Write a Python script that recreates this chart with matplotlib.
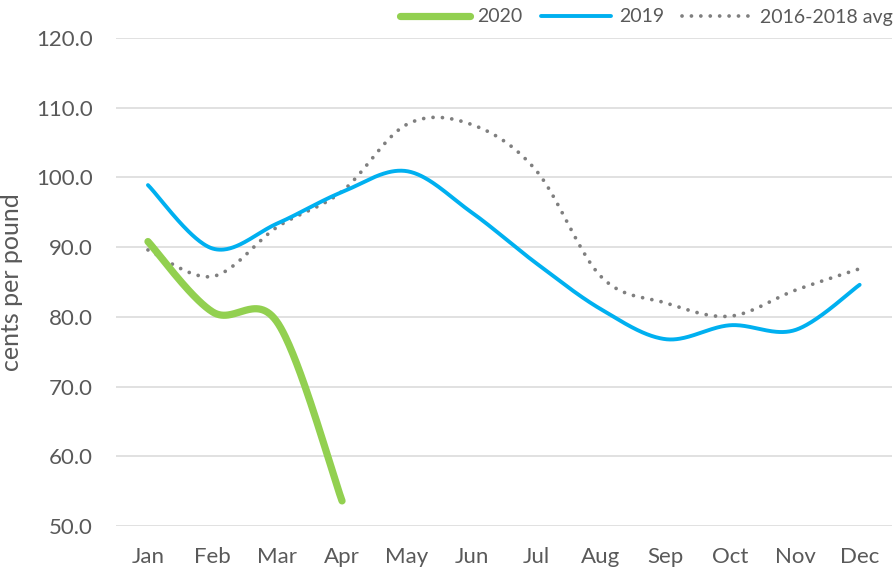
import numpy as np
import matplotlib
matplotlib.use("Agg")
import matplotlib.pyplot as plt
from matplotlib.lines import Line2D

plt.rcParams['font.family'] = ['Lato', 'DejaVu Sans']

months = ["Jan", "Feb", "Mar", "Apr", "May", "Jun", "Jul", "Aug", "Sep", "Oct", "Nov", "Dec"]
y2020 = [90.8, 80.7, 79.2, 53.6]
y2019 = [98.9, 89.8, 93.4, 97.9, 100.9, 95.0, 87.7, 81.1, 76.8, 78.8, 78.1, 84.6]
yavg = [89.6, 85.8, 92.9, 98.0, 107.6, 107.6, 101.0, 85.8, 82.0, 80.1, 83.8, 86.9]
yticks = [50, 60, 70, 80, 90, 100, 110, 120]

TEXT = "#595959"


def smooth(xs, ys, n=60):
    xs = np.asarray(xs, float)
    ys = np.asarray(ys, float)
    P = np.column_stack([xs, ys])
    out = []
    m = len(P)
    for i in range(m - 1):
        p0 = P[i - 1] if i > 0 else P[i]
        p1 = P[i]
        p2 = P[i + 1]
        p3 = P[i + 2] if i + 2 < m else P[i + 1]
        c1 = p1 + (p2 - p0) / 6.0
        c2 = p2 - (p3 - p1) / 6.0
        t = np.linspace(0, 1, n)[:, None]
        seg = ((1 - t) ** 3) * p1 + 3 * ((1 - t) ** 2) * t * c1 + 3 * (1 - t) * t ** 2 * c2 + t ** 3 * p2
        out.append(seg if i == 0 else seg[1:])
    arr = np.vstack(out)
    return arr[:, 0], arr[:, 1]


fig = plt.figure(figsize=(8.94, 5.72), dpi=100)
ax = fig.add_axes([115.6 / 894, 46 / 572, 776.4 / 894, 488 / 572])

for v in yticks:
    ax.axhline(v, color="#D9D9D9", lw=1.1, zorder=0)

DOT = (0, (0.01, 2.5))
x = np.arange(len(months))
xa, ya = smooth(x, yavg)
ax.plot(xa, ya, color="#7F7F7F", lw=2.7, linestyle=DOT,
        dash_capstyle="round", solid_capstyle="round", zorder=2)
xb, yb = smooth(x, y2019)
ax.plot(xb, yb, color="#00B0F0", lw=2.8, solid_capstyle="round", zorder=3)
xg, yg = smooth(x[:len(y2020)], y2020)
ax.plot(xg, yg, color="#92D050", lw=5.2, solid_capstyle="round", zorder=4)

ax.set_xlim(-0.5, 11.5)
ax.set_ylim(50, 120)
ax.set_xticks(x)
ax.set_xticklabels(months)
ax.set_yticks(yticks)
ax.set_yticklabels([f"{v:.1f}" for v in yticks])
ax.tick_params(axis="both", length=0, labelsize=16, labelcolor=TEXT)
ax.tick_params(axis="x", pad=15)
ax.tick_params(axis="y", pad=16.5)
for s in ax.spines.values():
    s.set_visible(False)
ax.set_ylabel("cents per pound", fontsize=18, color=TEXT)
ax.yaxis.set_label_coords(-(115.6 - 23) / 776.4, 0.5)

handles = [
    Line2D([], [], color="#92D050", lw=5.2, solid_capstyle="round"),
    Line2D([], [], color="#00B0F0", lw=2.8, solid_capstyle="round"),
    Line2D([], [], color="#7F7F7F", lw=2.7, linestyle=DOT, dash_capstyle="round"),
]
leg = fig.legend(handles, ["2020", "2019", "2016-2018 avg"], loc="center right",
                 bbox_to_anchor=(893 / 894, 1 - 17 / 572), ncol=3, frameon=False, fontsize=14,
                 handlelength=3.6, columnspacing=0.95, handletextpad=0.4, borderaxespad=0.0,
                 borderpad=0.0)
for t in leg.get_texts():
    t.set_color(TEXT)

fig.savefig("out.png", dpi=100)
